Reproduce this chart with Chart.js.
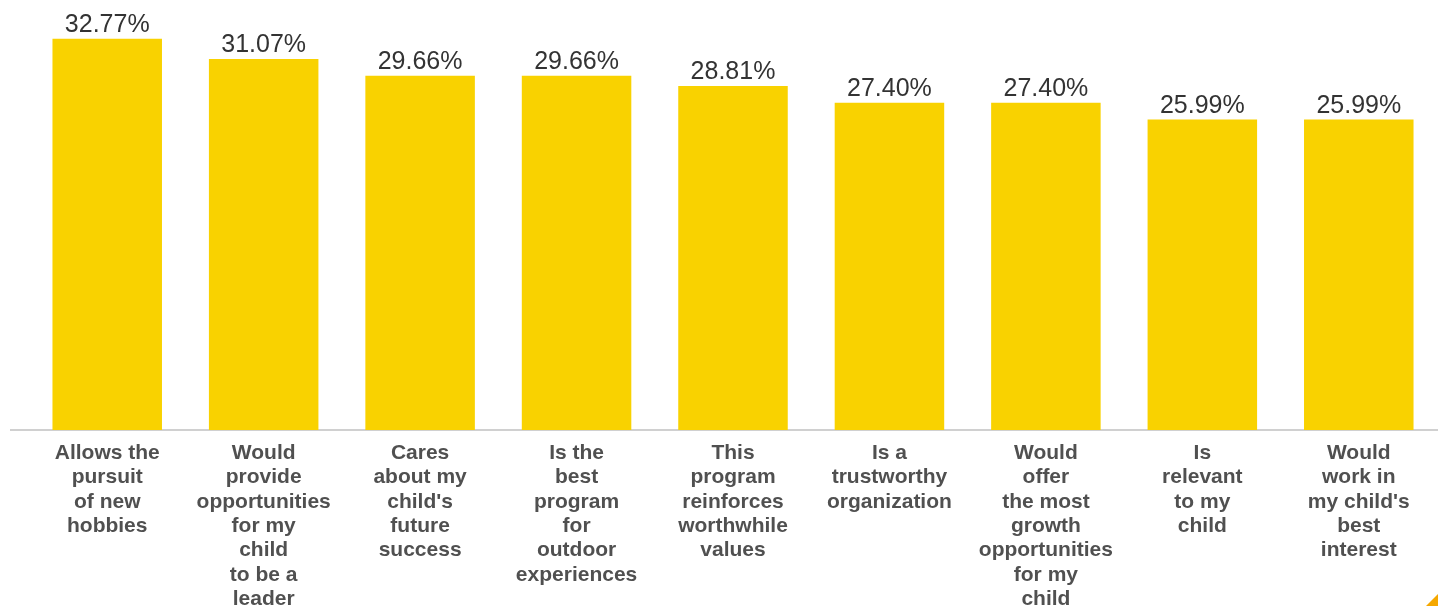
<!DOCTYPE html>
<html>
<head>
<meta charset="utf-8">
<script src="https://cdn.jsdelivr.net/npm/chart.js@4/dist/chart.umd.min.js"></script>
<style>
  html, body { margin: 0; padding: 0; background: #ffffff; overflow: hidden; }
  #wrap { position: relative; width: 1438px; height: 606px; }
  #corner { position: absolute; right: 0; bottom: 0; width: 0; height: 0;
            border-left: 12px solid transparent; border-bottom: 12px solid #F5A800; }
</style>
</head>
<body>
<div id="wrap">
  <canvas id="c"></canvas>
  <div id="corner"></div>
</div>
<script>
const categories = [
  ["Allows the", "pursuit", "of new", "hobbies"],
  ["Would", "provide", "opportunities", "for my", "child", "to be a", "leader"],
  ["Cares", "about my", "child's", "future", "success"],
  ["Is the", "best", "program", "for", "outdoor", "experiences"],
  ["This", "program", "reinforces", "worthwhile", "values"],
  ["Is a", "trustworthy", "organization"],
  ["Would", "offer", "the most", "growth", "opportunities", "for my", "child"],
  ["Is", "relevant", "to my", "child"],
  ["Would", "work in", "my child's", "best", "interest"]
];
const values = [32.77, 31.07, 29.66, 29.66, 28.81, 27.40, 27.40, 25.99, 25.99];
const valueLabels = ["32.77%", "31.07%", "29.66%", "29.66%", "28.81%", "27.40%", "27.40%", "25.99%", "25.99%"];

const FONT = "'Liberation Sans', Arial, sans-serif";

const baselinePlugin = {
  id: 'baseline',
  beforeDatasetsDraw(chart) {
    const ctx = chart.ctx;
    const y = chart.scales.y.getPixelForValue(0);
    ctx.save();
    ctx.strokeStyle = '#d0d0d0';
    ctx.lineWidth = 2;
    ctx.beginPath();
    ctx.moveTo(10, y);
    ctx.lineTo(chart.width, y);
    ctx.stroke();
    ctx.restore();
  }
};

const valueLabelPlugin = {
  id: 'valueLabels',
  afterDatasetsDraw(chart) {
    const ctx = chart.ctx;
    const meta = chart.getDatasetMeta(0);
    ctx.save();
    ctx.font = "25px " + FONT;
    ctx.fillStyle = '#333333';
    ctx.textAlign = 'center';
    ctx.textBaseline = 'alphabetic';
    meta.data.forEach((bar, i) => {
      ctx.fillText(valueLabels[i], bar.x, bar.y - 7);
    });
    ctx.restore();
  }
};

new Chart(document.getElementById('c'), {
  type: 'bar',
  data: {
    labels: categories,
    datasets: [{
      data: values,
      backgroundColor: '#F9D200',
      borderWidth: 0,
      barPercentage: 0.7,
      categoryPercentage: 1.0
    }]
  },
  options: {
    responsive: true,
    maintainAspectRatio: false,
    animation: false,
    layout: { padding: { top: 12, left: 29, right: 1, bottom: 0 } },
    plugins: { legend: { display: false }, tooltip: { enabled: false } },
    scales: {
      x: {
        grid: { display: false },
        border: { display: false },
        ticks: {
          autoSkip: false,
          maxRotation: 0,
          minRotation: 0,
          padding: 3,
          color: '#505050',
          font: { family: FONT, size: 21, weight: 'bold', lineHeight: 1.16 }
        },
        afterFit(scale) { scale.height = 176; }
      },
      y: {
        display: false,
        min: 0,
        max: 35
      }
    }
  },
  plugins: [baselinePlugin, valueLabelPlugin]
});
</script>
</body>
</html>
